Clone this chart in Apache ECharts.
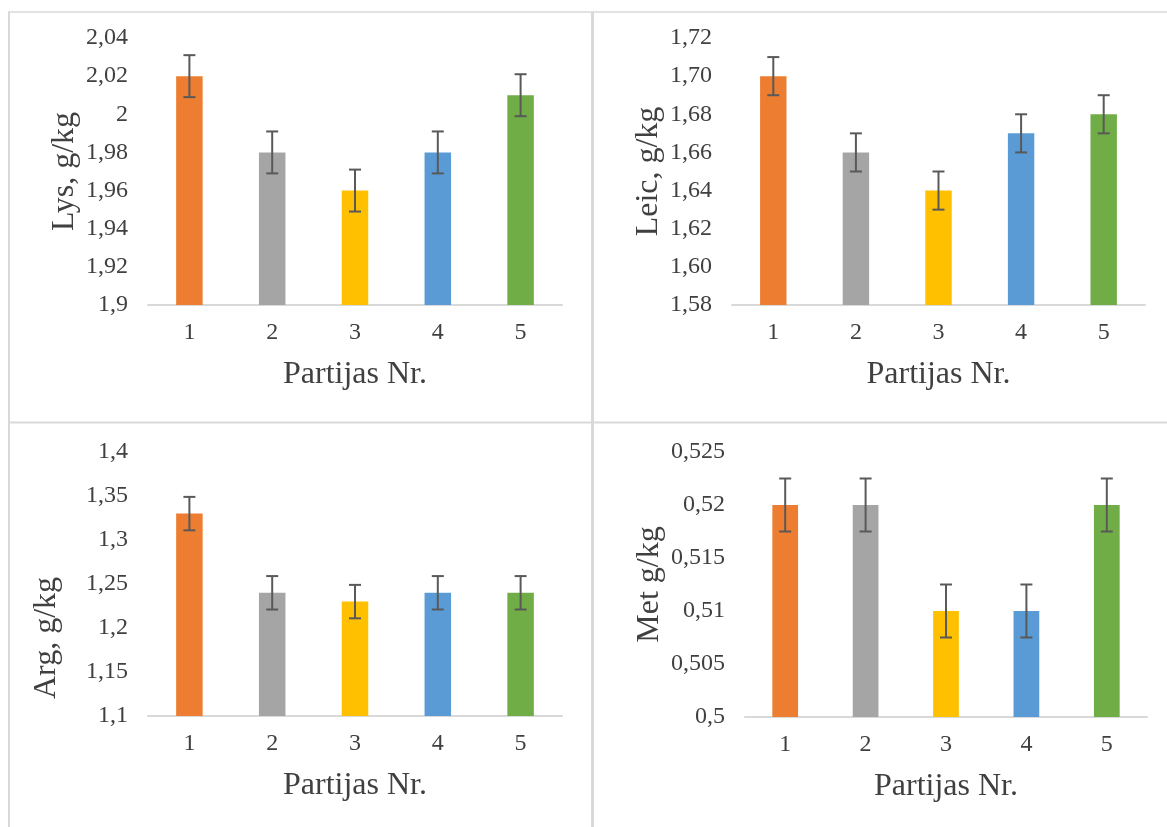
<!DOCTYPE html>
<html><head><meta charset="utf-8">
<script src="https://cdn.jsdelivr.net/npm/echarts@6/dist/echarts.min.js"></script>
<style>html,body{margin:0;padding:0;background:#fff;}#c{width:1167px;height:827px;}</style>
</head><body><div id="c"></div>
<script>
const categories = ['1', '2', '3', '4', '5'];
const barColors = ['#ED7D31', '#A5A5A5', '#FFC000', '#5B9BD5', '#70AD47'];

const lysValues = [2.02, 1.98, 1.96, 1.98, 2.01];
const lysErrors = [0.011, 0.011, 0.011, 0.011, 0.011];
const leicValues = [1.70, 1.66, 1.64, 1.67, 1.68];
const leicErrors = [0.01, 0.01, 0.01, 0.01, 0.01];
const argValues = [1.33, 1.24, 1.23, 1.24, 1.24];
const argErrors = [0.019, 0.019, 0.019, 0.019, 0.019];
const metValues = [0.52, 0.52, 0.51, 0.51, 0.52];
const metErrors = [0.0025, 0.0025, 0.0025, 0.0025, 0.0025];

const xTitle = 'Partijas Nr.';
const yTitles = ['Lys, g/kg', 'Leic, g/kg', 'Arg, g/kg', 'Met g/kg'];
const yMins = [1.9, 1.58, 1.1, 0.5];
const yMaxs = [2.04, 1.72, 1.4, 0.525];
const yIntervals = [0.02, 0.02, 0.05, 0.005];

const FONT = 'Liberation Serif';
const TEXT = '#404040';

const trimFmt = d => v => String(parseFloat(v.toFixed(d))).replace('.', ',');
const fixedFmt = d => v => v.toFixed(d).replace('.', ',');
const yFormatters = [trimFmt(2), fixedFmt(2), trimFmt(2), trimFmt(3)];

const panels = [
  {values: lysValues, errors: lysErrors},
  {values: leicValues, errors: leicErrors},
  {values: argValues, errors: argErrors},
  {values: metValues, errors: metErrors}
];

const grids = [
  {left: 148, top: 38, width: 414, height: 267},
  {left: 732, top: 38, width: 413, height: 267},
  {left: 148, top: 452, width: 414, height: 264},
  {left: 745, top: 452, width: 402, height: 265}
];
const yNameGaps = [67, 67, 85, 79];
const yNamePads = [[0,0,0,0],[0,0,0,0],[0,108,0,0],[0,0,0,0]];

function errRender(params, api) {
  const x = api.value(0), lo = api.value(1), hi = api.value(2);
  const a = api.coord([x, hi]);
  const b = api.coord([x, lo]);
  const w = 6;
  const st = {stroke: '#595959', lineWidth: 2};
  return {type: 'group', children: [
    {type: 'line', shape: {x1: a[0], y1: a[1], x2: b[0], y2: b[1]}, style: st},
    {type: 'line', shape: {x1: a[0] - w, y1: a[1], x2: a[0] + w, y2: a[1]}, style: st},
    {type: 'line', shape: {x1: b[0] - w, y1: b[1], x2: b[0] + w, y2: b[1]}, style: st}
  ]};
}

const xAxes = [], yAxes = [], series = [];
panels.forEach((p, i) => {
  xAxes.push({
    type: 'category', gridIndex: i, data: categories,
    name: xTitle, nameLocation: 'middle', nameGap: 54,
    nameTextStyle: {fontFamily: FONT, fontSize: 32, color: TEXT},
    axisLine: {lineStyle: {color: '#D9D9D9', width: 2}},
    axisTick: {show: false},
    axisLabel: {fontFamily: FONT, fontSize: 24, color: TEXT, margin: 16}
  });
  yAxes.push({
    type: 'value', gridIndex: i, min: yMins[i], max: yMaxs[i], interval: yIntervals[i],
    name: yTitles[i], nameLocation: 'middle', nameGap: yNameGaps[i], nameRotate: 90,
    nameTextStyle: {fontFamily: FONT, fontSize: 32, color: TEXT, padding: yNamePads[i]},
    axisLine: {show: false}, axisTick: {show: false}, splitLine: {show: false},
    axisLabel: {fontFamily: FONT, fontSize: 24, color: TEXT, margin: 20, formatter: yFormatters[i]}
  });
  series.push({
    type: 'bar', xAxisIndex: i, yAxisIndex: i, barWidth: '32%',
    data: p.values.map((v, k) => ({value: v, itemStyle: {color: barColors[k]}})),
    animation: false
  });
  series.push({
    type: 'custom', xAxisIndex: i, yAxisIndex: i, renderItem: errRender,
    encode: {x: 0, y: [1, 2]},
    data: p.values.map((v, k) => [k, v - p.errors[k], v + p.errors[k]]),
    z: 5, animation: false
  });
});

const borderStyle = {stroke: '#D9D9D9', lineWidth: 2};
const option = {
  backgroundColor: '#fff',
  animation: false,
  grid: grids,
  xAxis: xAxes,
  yAxis: yAxes,
  series: series,
  graphic: [
    {type: 'line', shape: {x1: 8, y1: 12, x2: 1167, y2: 12}, style: {stroke: '#D9D9D9', lineWidth: 1.5}},
    {type: 'line', shape: {x1: 9, y1: 12, x2: 9, y2: 827}, style: borderStyle},
    {type: 'line', shape: {x1: 8, y1: 422.5, x2: 1167, y2: 422.5}, style: borderStyle},
    {type: 'line', shape: {x1: 592.5, y1: 12, x2: 592.5, y2: 827}, style: {stroke: '#D9D9D9', lineWidth: 3}}
  ]
};
const chart = echarts.init(document.getElementById('c'), null, {renderer: 'canvas'});
chart.setOption(option);
</script>
</body></html>
